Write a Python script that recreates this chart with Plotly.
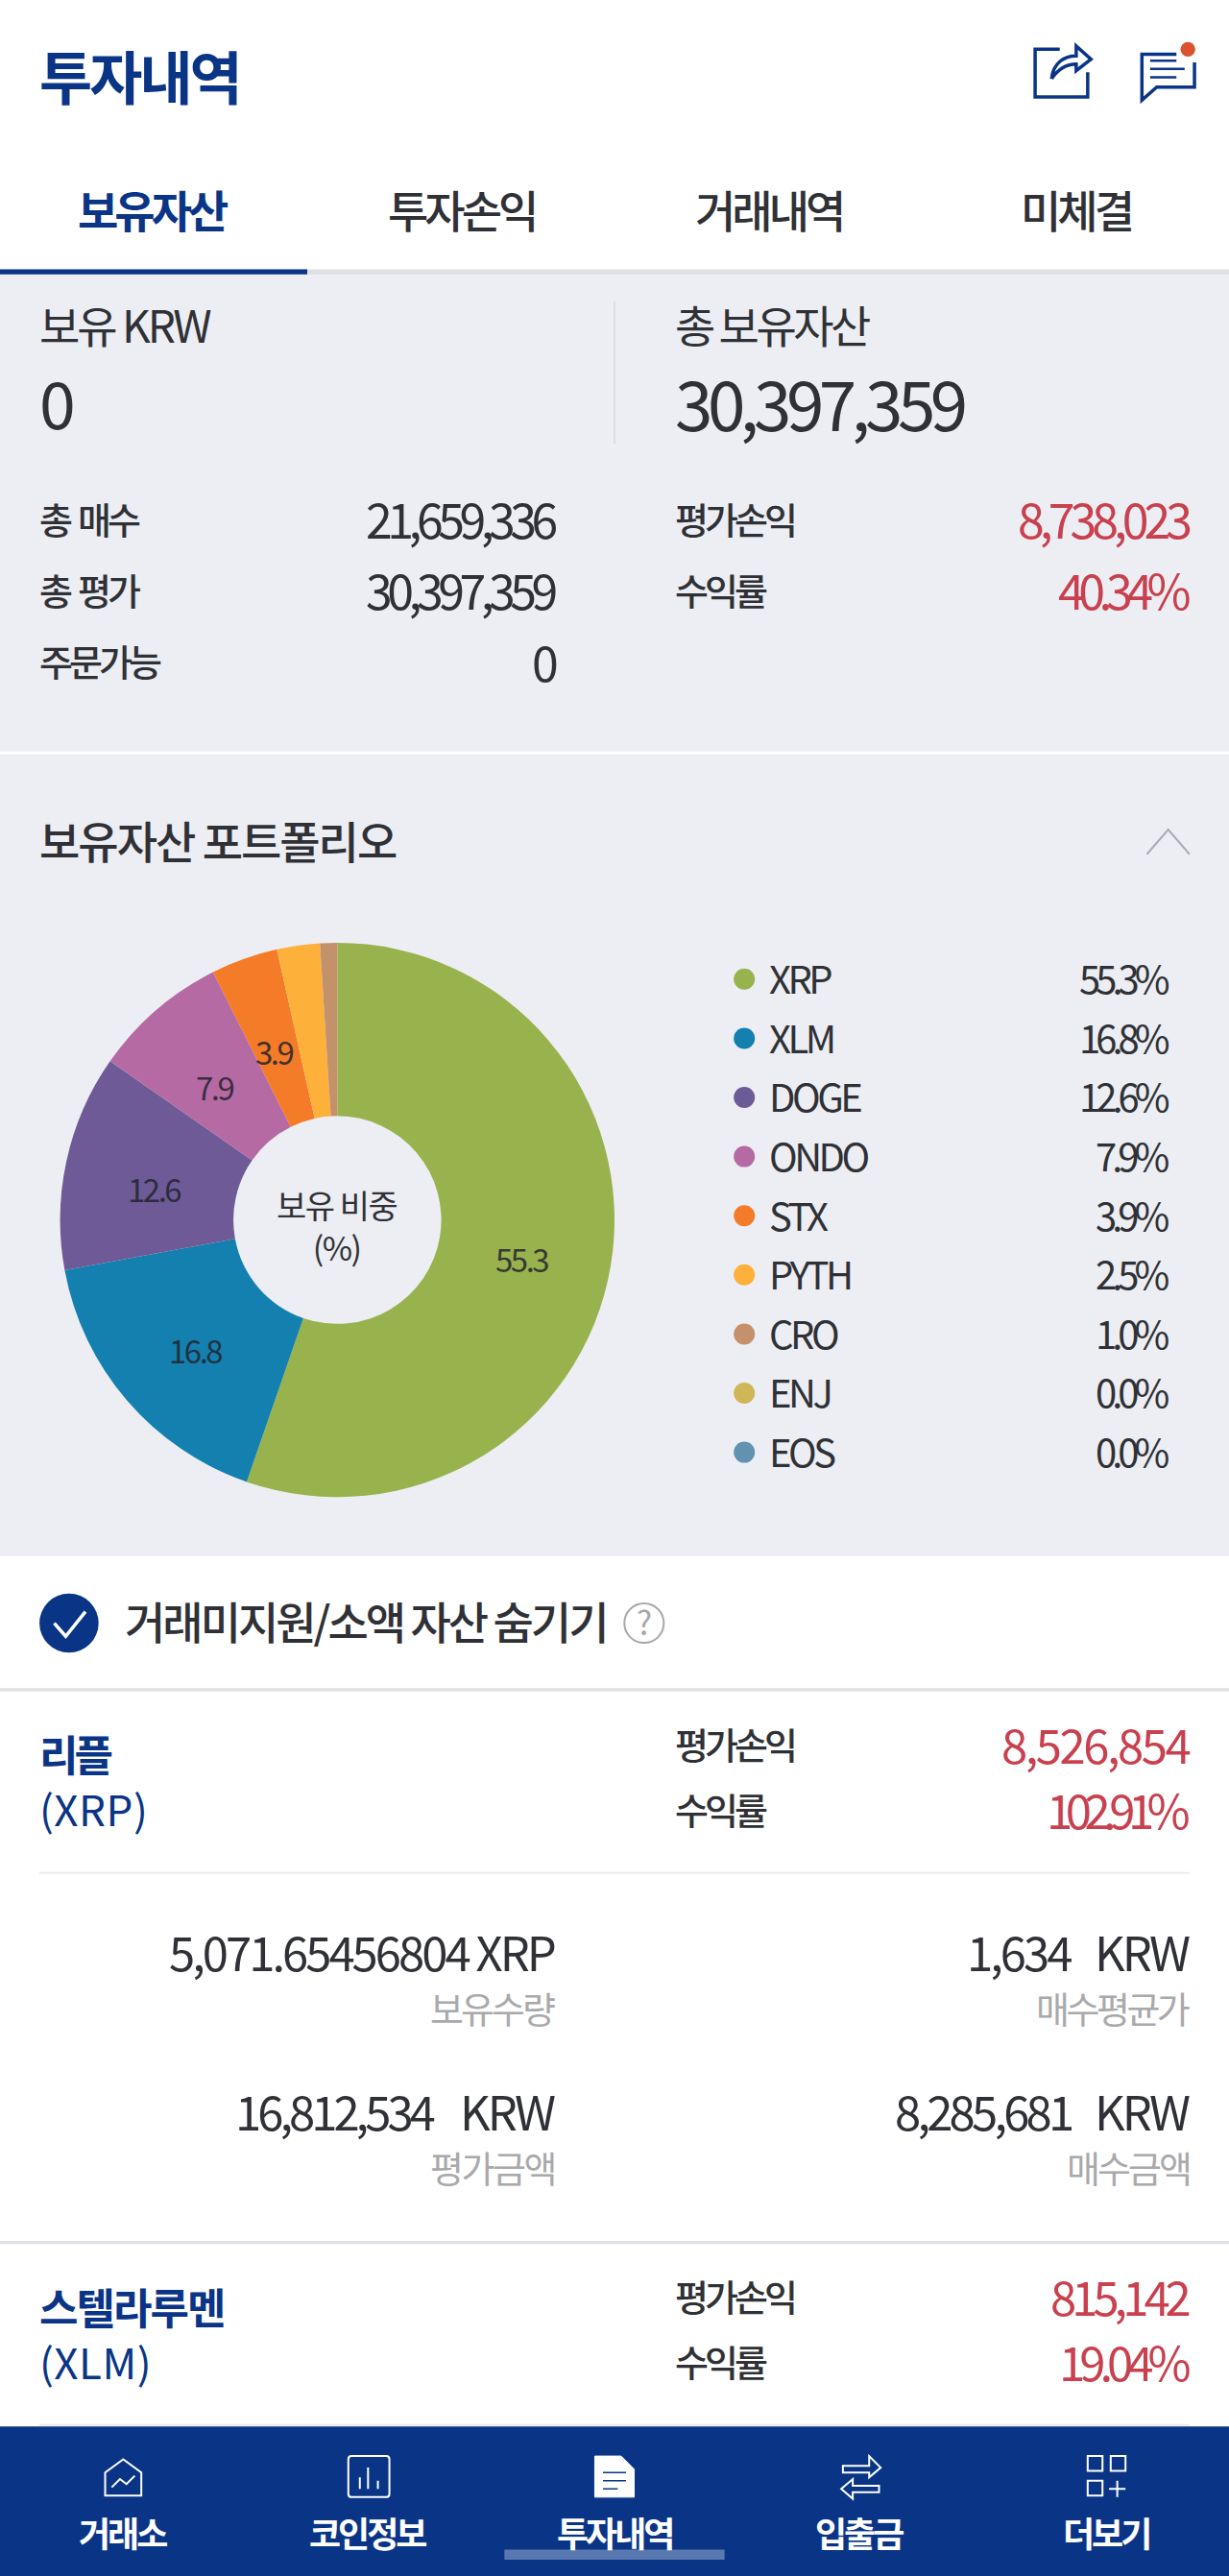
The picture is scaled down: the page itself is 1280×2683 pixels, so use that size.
import math

import plotly.graph_objects as go

# Portfolio values
coins = ['XRP', 'XLM', 'DOGE', 'ONDO', 'STX', 'PYTH', 'CRO', 'ENJ', 'EOS']
shares = [55.3, 16.8, 12.6, 7.9, 3.9, 2.5, 1.0, 0.0, 0.0]
slice_labels = ['55.3', '16.8', '12.6', '7.9', '3.9', '', '', '', '']
colors = ['#98b24d', '#1380b0', '#6d5a96', '#b56aa3', '#f47b28', '#fdb03a', '#c4926a', '#cfb656', '#6391b0']

summary_left = ['총 매수', '총 평가', '주문가능']
summary_left_values = ['21,659,336', '30,397,359', '0']
summary_right = ['평가손익', '수익률']
summary_right_values = ['8,738,023', '40.34%']
nav_labels = ['거래소', '코인정보', '투자내역', '입출금', '더보기']

W, H = 1280, 2683
S = W / 748  # the layout below is measured on a 748 wide grid
FONT = 'Noto Sans CJK KR'
BLUE = '#0a3586'
DARK = '#2f3136'
RED = '#c9404e'
GREY = '#a9a9ab'
PANEL = '#eceef3'
LINE = '#dfe0e4'

annotations = []
shapes = []


def txt(x, y, text, size, color=DARK, anchor='left', weight=400, ls=-1.5):
    annotations.append(dict(
        x=x, y=y - 2, xref='x', yref='y', showarrow=False, xanchor=anchor, yanchor='middle',
        text=f'<span style="letter-spacing:{ls}px">{text}</span>',
        font=dict(family=FONT, size=size, color=color, weight=weight), borderpad=0, borderwidth=0,
    ))


def name_block(y, name, ticker, ls_name):
    # coin name and ticker are one text, two lines
    annotations.append(dict(
        x=24, y=y, xref='x', yref='y', showarrow=False, xanchor='left', yanchor='middle', align='left',
        text=f'<span style="letter-spacing:{ls_name}px"><b>{name}</b></span><br>'
             f'<span style="letter-spacing:0.5px">{ticker}</span>',
        font=dict(family=FONT, size=44, color=BLUE), borderpad=0, borderwidth=0,
    ))


def rect(x0, y0, x1, y1, color):
    shapes.append(dict(type='rect', xref='x', yref='y', x0=x0, y0=y0, x1=x1, y1=y1,
                       fillcolor=color, line_width=0, layer='below'))


def stroke(path, color, width=3, fill=None):
    shapes.append(dict(type='path', xref='x', yref='y', path=path,
                       line=dict(color=color, width=width), fillcolor=fill, layer='below'))


def circle(cx, cy, r, fill=None, line=None, width=0):
    shapes.append(dict(type='circle', xref='x', yref='y', x0=cx - r, y0=cy - r, x1=cx + r, y1=cy + r,
                       fillcolor=fill, line=dict(color=line, width=width), layer='below'))


# Page bands
rect(0, 165, 748, 947, PANEL)
rect(0, 457.5, 748, 459, '#ffffff')
rect(0, 164, 748, 167, LINE)
rect(0, 164, 187, 167, BLUE)
rect(373.5, 183, 374.5, 270, '#d9dbe0')
rect(0, 1027.5, 748, 1029.5, LINE)
rect(24, 1139.5, 724, 1140.5, '#e8e9ec')
rect(0, 1364, 748, 1366, LINE)
rect(24, 1475.5, 724, 1476.5, '#e8e9ec')
rect(0, 1477, 748, 1568, BLUE)
rect(307, 1552, 441, 1558, '#5a78b0')

# Header
txt(24, 47, '투자내역', 60, BLUE, weight=700, ls=-3)
stroke('M 645 30 H 630 V 59 H 662 V 44', BLUE, 3.5)
stroke('M 640 48 C 641 38 648 34 655 34 L 655 28 L 664 36 L 655 43 L 655 39 C 649 39 644 42 640 48', BLUE, 3.5)
stroke('M 716 33 H 695 V 61 L 704 53 H 727 V 38', BLUE, 3.5)
stroke('M 700 37 H 716 M 700 42 H 721 M 700 47 H 716', BLUE, 2.5)
circle(723, 30, 4.5, fill='#d8532e')

for cx, label, color, weight in zip([93, 281, 468, 655], ['보유자산', '투자손익', '거래내역', '미체결'],
                                    [BLUE, DARK, DARK, DARK], [700, 500, 500, 500]):
    txt(cx, 129, label, 46, color, 'center', weight, ls=-4)

# Account summary
txt(24, 199, '보유 KRW', 46, ls=-3)
txt(24, 246, '0', 68, ls=-3)
txt(411, 199, '총 보유자산', 46, ls=-3.5)
txt(411, 246, '30,397,359', 71, ls=-5.5)
for i, (label, value) in enumerate(zip(summary_left, summary_left_values)):
    y = 317 + i * 43.5
    txt(24, y, label.replace(' ', '&nbsp;&nbsp;'), 38, ls=-4, weight=500)
    txt(339, y, value, 50, anchor='right', ls=-5.5)
for i, (label, value, spacing) in enumerate(zip(summary_right, summary_right_values, [-5, -6.5])):
    y = 317 + i * 43.5
    txt(411, y, label, 38, ls=-4, weight=500)
    txt(724, y, value, 50, RED, 'right', ls=spacing)

# Portfolio block
txt(24, 513, '보유자산 포트폴리오', 46, ls=-2, weight=500)
stroke('M 698 520 L 711 505 L 724 520', '#a9acb3', 2)
txt(205, 748, '보유 비중<br>(%)', 34, anchor='center', ls=-1.5)

for i, (coin, share) in enumerate(zip(coins, shares)):
    y = 597 + i * 36
    txt(468, y, coin, 40, ls=-3.5)
    txt(712, y, f'{share:.1f}%', 40, anchor='right', ls=-5)

# Hide toggle
circle(42, 988, 18, fill=BLUE)
stroke('M 33 988 L 40 996 L 52 981', '#ffffff', 3.5)
txt(76, 988, '거래미지원/소액 자산 숨기기', 46, ls=-3, weight=500)
circle(392, 988, 12, line='#a8a8a8', width=2)
txt(392, 989, '?', 34, '#a8a8a8', 'center', ls=0)

# Holdings
name_block(1084, '리플', '(XRP)', -4)
txt(411, 1063, '평가손익', 38, ls=-4, weight=500)
txt(411, 1103, '수익률', 38, ls=-4, weight=500)
txt(724, 1063, '8,526,854', 49, RED, 'right', ls=-2.5)
txt(724, 1103, '102.91%', 49, RED, 'right', ls=-7.5)

txt(338, 1189, '5,071.65456804 XRP', 49, anchor='right', ls=-3)
txt(338, 1224, '보유수량', 38, GREY, 'right', ls=-3)
txt(652, 1189, '1,634', 49, anchor='right', ls=-3)
txt(724, 1189, 'KRW', 49, anchor='right', ls=-3)
txt(724, 1224, '매수평균가', 38, GREY, 'right', ls=-3.5)
txt(265, 1286, '16,812,534', 49, anchor='right', ls=-4)
txt(338, 1286, 'KRW', 49, anchor='right', ls=-3)
txt(338, 1321, '평가금액', 38, GREY, 'right', ls=-2.5)
txt(652, 1286, '8,285,681', 49, anchor='right', ls=-3.8)
txt(724, 1286, 'KRW', 49, anchor='right', ls=-3)
txt(724, 1321, '매수금액', 38, GREY, 'right', ls=-3)

name_block(1420.5, '스텔라루멘', '(XLM)', -2)
txt(411, 1399, '평가손익', 38, ls=-4, weight=500)
txt(411, 1439, '수익률', 38, ls=-4, weight=500)
txt(724, 1399, '815,142', 49, RED, 'right', ls=-5)
txt(724, 1439, '19.04%', 49, RED, 'right', ls=-6)

# Bottom navigation
for cx, label in zip([75, 224, 374, 523, 673], nav_labels):
    txt(cx, 1543, label, 36, '#ffffff', 'center', 700, ls=-3)
stroke('M 64 1505 L 75 1497 L 86 1505 V 1519 H 64 Z M 68 1514 L 73 1509 L 77 1512 L 82 1507', '#ffffff', 2)
stroke('M 214 1495 H 235 Q 237 1495 237 1497 V 1518 Q 237 1520 235 1520 H 214 Q 212 1520 212 1518 V 1497 Q 212 1495 214 1495 Z '
       'M 219 1508 V 1515 M 224 1502 V 1515 M 230 1510 V 1515', '#ffffff', 2)
stroke('M 363 1495 H 378 L 386 1503 V 1520 H 362 V 1495 Z', '#ffffff', 1, fill='#ffffff')
stroke('M 367 1505 H 381 M 367 1510 H 381 M 367 1515 H 376', BLUE, 1.5)
stroke('M 513 1501 H 529 V 1495 L 536 1502 L 529 1508 V 1505 H 513 Z M 535 1513 H 519 V 1509 L 512 1515 L 519 1521 V 1517 H 535 Z',
       '#ffffff', 2)
stroke('M 662 1495 H 671 V 1504 H 662 Z M 676 1495 H 685 V 1504 H 676 Z M 662 1510 H 671 V 1519 H 662 Z '
       'M 680 1510 V 1520 M 675 1515 H 685', '#ffffff', 2)

fig = go.Figure()

# Legend dots sit on the grid axes, the pie has its own domain
fig.add_trace(go.Scatter(
    x=[453] * len(coins),
    y=[596 + i * 36 for i in range(len(coins))],
    mode='markers',
    marker=dict(size=22, color=colors),
    hoverinfo='skip',
    showlegend=False,
))

pie_x, pie_y, pie_r = 205.3, 742.5, 168.7
fig.add_trace(go.Pie(
    labels=coins,
    values=shares,
    textinfo='none',
    marker=dict(colors=colors, line=dict(width=0)),
    hole=0.375,
    sort=False,
    direction='clockwise',
    rotation=0,
    domain=dict(x=[(pie_x - pie_r) * S / W, (pie_x + pie_r) * S / W],
                y=[1 - (pie_y + pie_r) * S / H, 1 - (pie_y - pie_r) * S / H]),
    showlegend=False,
    hoverinfo='label+percent',
))

# Slice labels follow the middle of each slice, mid ring
before = 0
for share, label in zip(shares, slice_labels):
    mid = (before + share / 2) / sum(shares) * 2 * math.pi
    before += share
    if label:
        txt(pie_x + 114 * math.sin(mid), pie_y - 114 * math.cos(mid) + 7, label, 33,
            'rgba(35,35,45,0.85)', 'center', ls=-2.5)

fig.update_layout(
    width=W,
    height=H,
    margin=dict(l=0, r=0, t=0, b=0),
    paper_bgcolor='#ffffff',
    plot_bgcolor='#ffffff',
    xaxis=dict(range=[0, 748], visible=False, fixedrange=True),
    yaxis=dict(range=[1568, 0], visible=False, fixedrange=True),
    shapes=shapes,
    annotations=annotations,
)

# Browser default body margin would shift the whole page
fig.write_html("out.html", config=dict(displayModeBar=False), post_script="document.body.style.margin='0';")
